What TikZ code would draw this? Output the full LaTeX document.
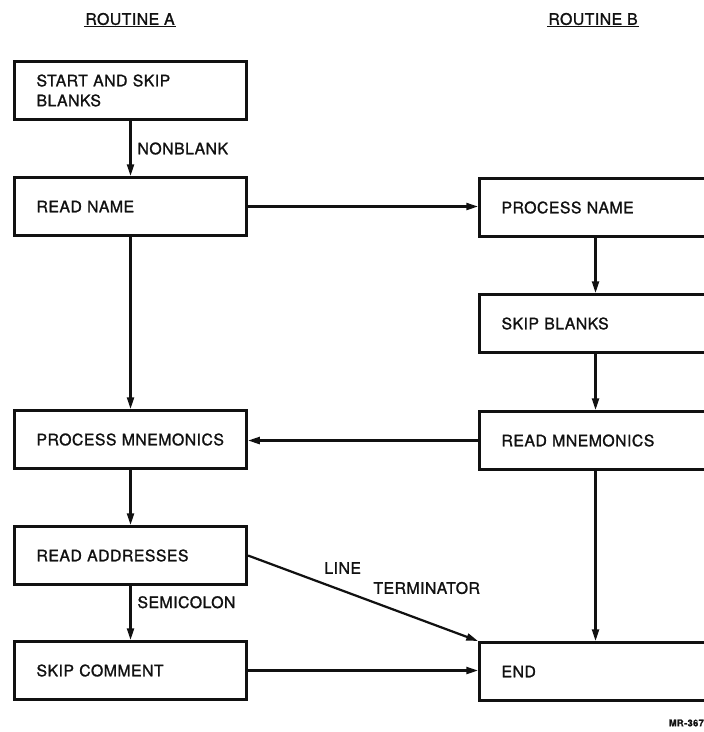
\documentclass[tikz,border=0pt]{standalone}
\usepackage{fontspec}
\setmainfont[LetterSpace=3,FakeBold=1.3]{TeX Gyre Heros}
\usepackage{tikz}
\usetikzlibrary{arrows.meta,positioning,calc}
\definecolor{cInk}{HTML}{111111}
\tikzset{
  fbox/.style={draw=cInk,line width=2.6pt,anchor=north west,minimum width=6.96cm,minimum height=1.74cm,
    text width=5.64cm,inner xsep=0.66cm,align=left,font=\fontsize{13.5}{17}\selectfont,text=cInk},
  arr/.style={-{Triangle[length=10pt,width=6pt]},line width=1.9pt,color=cInk},
  lbl/.style={font=\fontsize{13.5}{15}\selectfont,text=cInk,inner sep=1pt},
  ttl/.style={font=\fontsize{13.5}{15}\selectfont,text=cInk,inner sep=1pt},
}

\begin{document}
\begin{tikzpicture}[x=0.03cm,y=-0.03cm]
    \useasboundingbox (0,0) rectangle (704,732);
    \clip (0,0) rectangle (704,732);
    % titles
    \node[ttl] (ttlA) at (130,19) {ROUTINE A};
    \draw[cInk,line width=1.4pt] (ttlA.south west) -- (ttlA.south east);
    \node[ttl] (ttlB) at (593,19) {ROUTINE B};
    \draw[cInk,line width=1.4pt] (ttlB.south west) -- (ttlB.south east);
    % routine A
    \node[fbox] (start) at (13,60) {START AND SKIP\\BLANKS};
    \node[fbox] (rdname) at (13,176) {READ NAME};
    \node[fbox] (pmnem) at (13,409) {PROCESS MNEMONICS};
    \node[fbox] (raddr) at (13,525) {READ ADDRESSES};
    \node[fbox] (skcom) at (13,640) {SKIP COMMENT};
    % routine B
    \node[fbox] (pname) at (478,177) {PROCESS NAME};
    \node[fbox] (skbl) at (478,293) {SKIP BLANKS};
    \node[fbox] (rmnem) at (478,410) {READ MNEMONICS};
    \node[fbox] (fin) at (478,641) {END};
    % connectors
    \draw[arr] (start) -- (rdname) node[lbl,midway,right=4pt] {NONBLANK};
    \draw[arr] (rdname.east) -- (rdname.east -| pname.west);
    \draw[arr] (rdname) -- (pmnem);
    \draw[arr] (pname) -- (skbl);
    \draw[arr] (skbl) -- (rmnem);
    \draw[arr] (rmnem.west) -- (rmnem.west -| pmnem.east);
    \draw[arr] (pmnem) -- (raddr);
    \draw[arr] (raddr) -- (skcom) node[lbl,pos=0.3,right=4pt] {SEMICOLON};
    \draw[arr] (raddr.east) -- (fin.north west);
    \node[lbl,anchor=west] (lnA) at (323,568) {LINE};
    \node[lbl,anchor=west] (lnB) at (372,588) {TERMINATOR};
    \draw[arr] (skcom.east) -- (skcom.east -| fin.west);
    \draw[arr] (rmnem) -- (fin);
    \node[font=\bfseries\fontsize{8}{10}\selectfont,text=cInk,anchor=east,inner sep=0pt] (tag) at (704,723) {MR-367};
  \end{tikzpicture}
\end{document}
